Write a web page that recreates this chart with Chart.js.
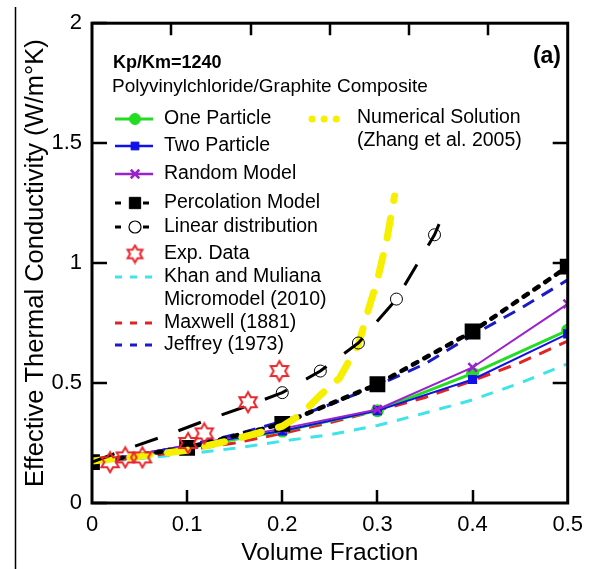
<!DOCTYPE html>
<html>
<head>
<meta charset="utf-8">
<script src="https://cdn.jsdelivr.net/npm/chart.js@4.4.0/dist/chart.umd.min.js"></script>
<style>
  html, body { margin: 0; padding: 0; background: #fff; }
  #wrap { width: 592px; height: 569px; }
</style>
</head>
<body>
<div id="wrap"><canvas id="kChart" width="592" height="569"></canvas></div>
<script>
const FONT = "'Liberation Sans', Arial, Helvetica, sans-serif";

// volume fractions used by the particle models
const xModel = [0, 0.1, 0.2, 0.3, 0.4, 0.5];
const onePart = [0.17, 0.23, 0.30, 0.385, 0.54, 0.72];
const twoPart = [0.17, 0.24, 0.30, 0.385, 0.515, 0.705];
const randomModel = [0.17, 0.24, 0.31, 0.39, 0.565, 0.83];
const percolation = [0.17, 0.23, 0.33, 0.495, 0.715, 0.985];

// classical models on a finer grid
const xFine = [0, 0.05, 0.1, 0.15, 0.2, 0.25, 0.3, 0.35, 0.4, 0.45, 0.5];
const khan = [0.17, 0.185, 0.205, 0.228, 0.258, 0.285, 0.323, 0.375, 0.43, 0.5, 0.58];
const maxwell = [0.17, 0.19, 0.22, 0.25, 0.29, 0.335, 0.385, 0.44, 0.51, 0.585, 0.675];
const jeffrey = [0.17, 0.2, 0.24, 0.285, 0.34, 0.41, 0.49, 0.58, 0.7, 0.81, 0.93];

// linear distribution
const xLinear = [0, 0.04, 0.08, 0.12, 0.16, 0.2, 0.24, 0.28, 0.32, 0.36, 0.37];
const linearDist = [0.17, 0.23, 0.285, 0.345, 0.40, 0.46, 0.55, 0.667, 0.85, 1.118, 1.21];

// numerical solution (Zhang et al. 2005)
const xZhang = [0, 0.05, 0.1, 0.15, 0.2, 0.22, 0.24, 0.26, 0.28, 0.29, 0.3, 0.31, 0.318];
const zhang = [0.175, 0.195, 0.22, 0.265, 0.32, 0.37, 0.45, 0.52, 0.66, 0.8, 0.93, 1.1, 1.28];

// experimental data
const xExp = [0.019, 0.035, 0.053, 0.101, 0.118, 0.164, 0.197];
const expData = [0.17, 0.19, 0.19, 0.25, 0.29, 0.42, 0.55];

const yTickVals = [0, 0.5, 1, 1.5, 2];
const xTickVals = [0.1, 0.2, 0.3, 0.4];

const pts = (xs, ys) => xs.map((x, i) => ({ x, y: ys[i] }));

// open six-pointed star marker
function makeStar(r, color) {
  const s = Math.ceil(r * 2 + 4);
  const c = document.createElement('canvas');
  c.width = s; c.height = s;
  const g = c.getContext('2d');
  g.strokeStyle = color;
  g.lineWidth = 2;
  g.beginPath();
  for (let i = 0; i < 12; i++) {
    const a = -Math.PI / 2 + i * Math.PI / 6;
    const rr = i % 2 === 0 ? r : r * 0.58;
    const px = s / 2 + rr * Math.cos(a), py = s / 2 + rr * Math.sin(a);
    if (i) g.lineTo(px, py); else g.moveTo(px, py);
  }
  g.closePath();
  g.stroke();
  return c;
}
const star = makeStar(10, '#e8262c');
const smallStar = makeStar(8.5, '#e8262c');

const GREEN = '#22dd22', BLUE = '#1010e8', PURPLE = '#9a22cc', BLACK = '#000';
const YELLOW = '#f6f000', CYAN = '#3ee4ea', RED = '#e02424', NAVY = '#1a1ac8';

const linearRadius = xLinear.map(x => (x >= 0.2 && x < 0.365) ? 6 : 0);

// first dataset ends up on top
const datasets = [
  { label: 'Exp. Data', data: pts(xExp, expData), showLine: false, pointStyle: star, pointRadius: 10 },
  { label: 'Linear distribution', data: pts(xLinear, linearDist), borderColor: BLACK, backgroundColor: 'rgba(0,0,0,0)', borderWidth: 3, borderDash: [24, 22], pointStyle: 'circle', pointRadius: linearRadius, pointBorderWidth: 1 },
  { label: 'Numerical Solution', data: pts(xZhang, zhang), borderColor: YELLOW, borderWidth: 7, borderDash: [20, 18], borderCapStyle: 'round', pointRadius: 0 },
  { label: 'Percolation Model', data: pts(xModel, percolation), borderColor: BLACK, backgroundColor: BLACK, borderWidth: 4.5, borderDash: [5, 8], borderCapStyle: 'round', pointStyle: 'rect', pointRadius: 8 },
  { label: 'Jeffrey (1973)', data: pts(xFine, jeffrey), borderColor: NAVY, borderWidth: 3, borderDash: [13, 9], pointRadius: 0 },
  { label: 'Random Model', data: pts(xModel, randomModel), borderColor: PURPLE, backgroundColor: PURPLE, borderWidth: 2, pointStyle: 'crossRot', pointRadius: 6, pointBorderWidth: 2.5 },
  { label: 'Two Particle', data: pts(xModel, twoPart), borderColor: BLUE, backgroundColor: BLUE, borderWidth: 2, pointStyle: 'rect', pointRadius: 5 },
  { label: 'One Particle', data: pts(xModel, onePart), borderColor: GREEN, backgroundColor: GREEN, borderWidth: 3, pointStyle: 'circle', pointRadius: 5 },
  { label: 'Maxwell (1881)', data: pts(xFine, maxwell), borderColor: RED, borderWidth: 3, borderDash: [13, 9], pointRadius: 0 },
  { label: 'Khan and Muliana', data: pts(xFine, khan), borderColor: CYAN, borderWidth: 3, borderDash: [12, 10], pointRadius: 0 }
];

// legend rows drawn inside the plot
const legendRows = [
  { text: 'One Particle', y: 119, color: GREEN, width: 3, dash: [], point: { pointStyle: 'circle', radius: 5.5 }, fill: GREEN },
  { text: 'Two Particle', y: 146, color: BLUE, width: 2.5, dash: [], point: { pointStyle: 'rect', radius: 5.5 }, fill: BLUE },
  { text: 'Random Model', y: 174, color: PURPLE, width: 2.5, dash: [], point: { pointStyle: 'crossRot', radius: 6, borderWidth: 2.5 }, fill: PURPLE },
  { text: 'Percolation Model', y: 203, color: BLACK, width: 3, dash: [6, 22], point: { pointStyle: 'rect', radius: 8 }, fill: BLACK },
  { text: 'Linear distribution', y: 227, color: BLACK, width: 3, dash: [6, 22], point: { pointStyle: 'circle', radius: 6, borderWidth: 1.2 }, fill: '#fff' },
  { text: 'Exp. Data', y: 254, color: null, point: { pointStyle: smallStar, radius: 8.5 } },
  { text: 'Khan and Muliana', y: 277, color: CYAN, width: 3, dash: [7, 8] },
  { text: 'Micromodel (2010)', y: 300, color: null },
  { text: 'Maxwell (1881)', y: 323, color: RED, width: 3, dash: [7, 8] },
  { text: 'Jeffrey (1973)', y: 345, color: NAVY, width: 3, dash: [7, 8] }
];

const framePlugin = {
  id: 'frame',
  afterDraw(chart) {
    const { ctx, chartArea: a, scales: { x, y } } = chart;
    ctx.save();
    ctx.strokeStyle = '#000';
    ctx.lineCap = 'butt';
    ctx.setLineDash([]);
    // inward ticks
    ctx.lineWidth = 2.5;
    ctx.beginPath();
    yTickVals.forEach(v => {
      const py = Math.round(y.getPixelForValue(v));
      ctx.moveTo(a.left, py); ctx.lineTo(a.left + 15, py);
      if (v > 0 && v < 2) { ctx.moveTo(a.right, py); ctx.lineTo(a.right - 15, py); }
    });
    xTickVals.forEach(v => {
      const px = Math.round(x.getPixelForValue(v));
      ctx.moveTo(px, a.bottom); ctx.lineTo(px, a.bottom - 13);
    });
    for (let k = 1; k < 6; k++) {
      const px = Math.round(x.getPixelForValue(k * 0.5 / 6));
      ctx.moveTo(px, a.top); ctx.lineTo(px, a.top + 12);
    }
    ctx.stroke();
    ctx.lineWidth = 3;
    ctx.strokeRect(a.left, a.top, a.right - a.left, a.bottom - a.top);
    // page rule on the left
    ctx.lineWidth = 1.5;
    ctx.beginPath();
    ctx.moveTo(15.5, 7); ctx.lineTo(15.5, 569);
    ctx.stroke();

    // annotations
    ctx.fillStyle = '#000';
    ctx.textBaseline = 'middle';
    ctx.textAlign = 'left';
    ctx.font = 'bold 18px ' + FONT;
    ctx.fillText('Kp/Km=1240', 113, 63);
    ctx.font = 'bold 23px ' + FONT;
    ctx.textAlign = 'right';
    ctx.fillText('(a)', 561, 57);
    ctx.textAlign = 'left';
    ctx.font = '19px ' + FONT;
    ctx.fillText('Polyvinylchloride/Graphite Composite', 112, 87);

    // legend
    legendRows.forEach(r => {
      if (r.color) {
        ctx.strokeStyle = r.color;
        ctx.lineWidth = r.width;
        ctx.setLineDash(r.dash);
        ctx.beginPath();
        ctx.moveTo(115, r.y); ctx.lineTo(153, r.y);
        ctx.stroke();
        ctx.setLineDash([]);
      }
      if (r.point) {
        ctx.fillStyle = r.fill || 'rgba(0,0,0,0)';
        ctx.strokeStyle = r.color || '#000';
        ctx.lineWidth = r.point.borderWidth || 1;
        Chart.helpers.drawPoint(ctx, { pointStyle: r.point.pointStyle, radius: r.point.radius, borderWidth: r.point.borderWidth || 1, rotation: 0 }, 135, r.y);
      }
      ctx.fillStyle = '#000';
      ctx.font = '19.5px ' + FONT;
      ctx.fillText(r.text, 164, r.y);
    });
    // numerical solution entry
    ctx.strokeStyle = YELLOW;
    ctx.lineWidth = 7;
    ctx.lineCap = 'round';
    ctx.setLineDash([0.1, 12]);
    ctx.beginPath();
    ctx.moveTo(312, 119); ctx.lineTo(345, 119);
    ctx.stroke();
    ctx.setLineDash([]);
    ctx.fillStyle = '#000';
    ctx.fillText('Numerical Solution', 357, 118);
    ctx.fillText('(Zhang et al. 2005)', 357, 141);
    ctx.restore();
  }
};

Chart.defaults.color = '#000';
Chart.defaults.font.family = FONT;

new Chart(document.getElementById('kChart'), {
  type: 'line',
  data: { datasets },
  options: {
    responsive: false,
    animation: false,
    layout: { padding: { top: 20, right: 17, left: 0, bottom: 0 } },
    plugins: { legend: { display: false }, tooltip: { enabled: false } },
    elements: { line: { tension: 0 } },
    scales: {
      x: {
        type: 'linear',
        min: 0, max: 0.5,
        grid: { display: false, drawTicks: false },
        border: { display: false },
        ticks: { stepSize: 0.1, font: { size: 22 }, padding: 9, maxRotation: 0, callback: v => String(+v.toFixed(1)) },
        title: { display: true, text: 'Volume Fraction', font: { size: 24.5 }, padding: { top: 0, bottom: 1 } },
        afterFit: s => { s.height = 66; }
      },
      y: {
        min: 0, max: 2,
        grid: { display: false, drawTicks: false },
        border: { display: false },
        ticks: { stepSize: 0.5, font: { size: 22 }, padding: 10, callback: v => String(+v.toFixed(1)) },
        title: { display: true, text: 'Effective Thermal Conductivity (W/m°K)', font: { size: 25.5 }, padding: { top: 21, bottom: 0 } },
        afterFit: s => { s.width = 92; }
      }
    }
  },
  plugins: [framePlugin]
});
</script>
</body>
</html>
